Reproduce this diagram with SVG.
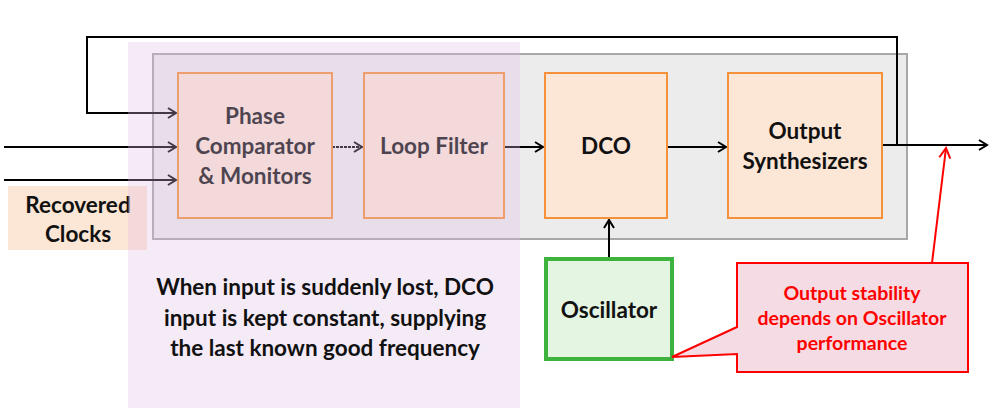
<svg xmlns="http://www.w3.org/2000/svg" width="996" height="415" viewBox="0 0 996 415">
<defs>
<marker id="arr" markerWidth="12" markerHeight="12" refX="10" refY="6" orient="auto" markerUnits="userSpaceOnUse">
<path d="M2,1 L10,6 L2,11" fill="none" stroke="#000" stroke-width="2"/>
</marker>
<marker id="arrR" markerWidth="14" markerHeight="14" refX="12" refY="7" orient="auto" markerUnits="userSpaceOnUse">
<path d="M2,1.5 L12,7 L2,12.5" fill="none" stroke="#f00" stroke-width="2"/>
</marker>
</defs>
<style>
.blk{fill:#fce6d5;stroke:#f5913a;stroke-width:2}
.t{font-family:Lato,"Open Sans","Liberation Sans",sans-serif;font-weight:bold;text-anchor:middle}
.bt{font-size:22.5px;fill:#111}
.ct{font-size:19.5px;fill:#f00}
.ln{fill:none;stroke:#000;stroke-width:2}
</style>
<rect x="153" y="54" width="754" height="185" fill="#ececec" stroke="#a8a8a8" stroke-width="2"/>
<g id="recovered">
<rect x="8" y="186" width="139" height="64" fill="#fce6d5"/>
<text class="t bt" x="78" y="213">Recovered</text>
<text class="t bt" x="78" y="242">Clocks</text>
</g>
<g id="connectors">
<path class="ln" d="M897,145 V37 H87 V113 H176" stroke-width="3" marker-end="url(#arr)"/>
<path class="ln" d="M4,147 H176" marker-end="url(#arr)"/>
<path class="ln" d="M4,180 H176" marker-end="url(#arr)"/>
<path class="ln" d="M332,147 H362" stroke-dasharray="3,1" marker-end="url(#arr)"/>
<path class="ln" d="M504,147 H543" marker-end="url(#arr)"/>
<path class="ln" d="M667,147 H726" marker-end="url(#arr)"/>
<path class="ln" d="M882,145 H987" marker-end="url(#arr)"/>
<path class="ln" d="M609,258 V220" marker-end="url(#arr)"/>
<path d="M932,263 L946,148" fill="none" stroke="#f00" stroke-width="2" marker-end="url(#arrR)"/>
</g>
<g id="phase">
<rect class="blk" x="178" y="73" width="154" height="145"/>
<text class="t bt" x="255" y="124">Phase</text>
<text class="t bt" x="255" y="154">Comparator</text>
<text class="t bt" x="255" y="184">&amp; Monitors</text>
</g>
<g id="loopfilter">
<rect class="blk" x="364" y="73" width="140" height="145"/>
<text class="t bt" x="434" y="154">Loop Filter</text>
</g>
<g id="dco">
<rect class="blk" x="545" y="73" width="122" height="145"/>
<text class="t bt" x="606" y="154">DCO</text>
</g>
<g id="synth">
<rect class="blk" x="728" y="73" width="154" height="145"/>
<text class="t bt" x="805" y="139">Output</text>
<text class="t bt" x="805" y="169">Synthesizers</text>
</g>
<g id="oscillator">
<rect x="546" y="259" width="126" height="100" fill="#e4f5e2" stroke="#3db33d" stroke-width="4"/>
<text class="t bt" x="609" y="318">Oscillator</text>
</g>
<rect x="128" y="42" width="392" height="366" fill="rgb(222,190,228)" fill-opacity="0.3"/>
<g id="note">
<text class="t bt" x="325" y="295">When input is suddenly lost, DCO</text>
<text class="t bt" x="325" y="326">input is kept constant, supplying</text>
<text class="t bt" x="325" y="356">the last known good frequency</text>
</g>
<g id="callout">
<path d="M737,263 H968 V372 H737 V354 L672,357 L737,327 Z" fill="#f5dce4" stroke="#f00" stroke-width="2"/>
<text class="t ct" x="852" y="300">Output stability</text>
<text class="t ct" x="852" y="325">depends on Oscillator</text>
<text class="t ct" x="852" y="350">performance</text>
</g>
</svg>
